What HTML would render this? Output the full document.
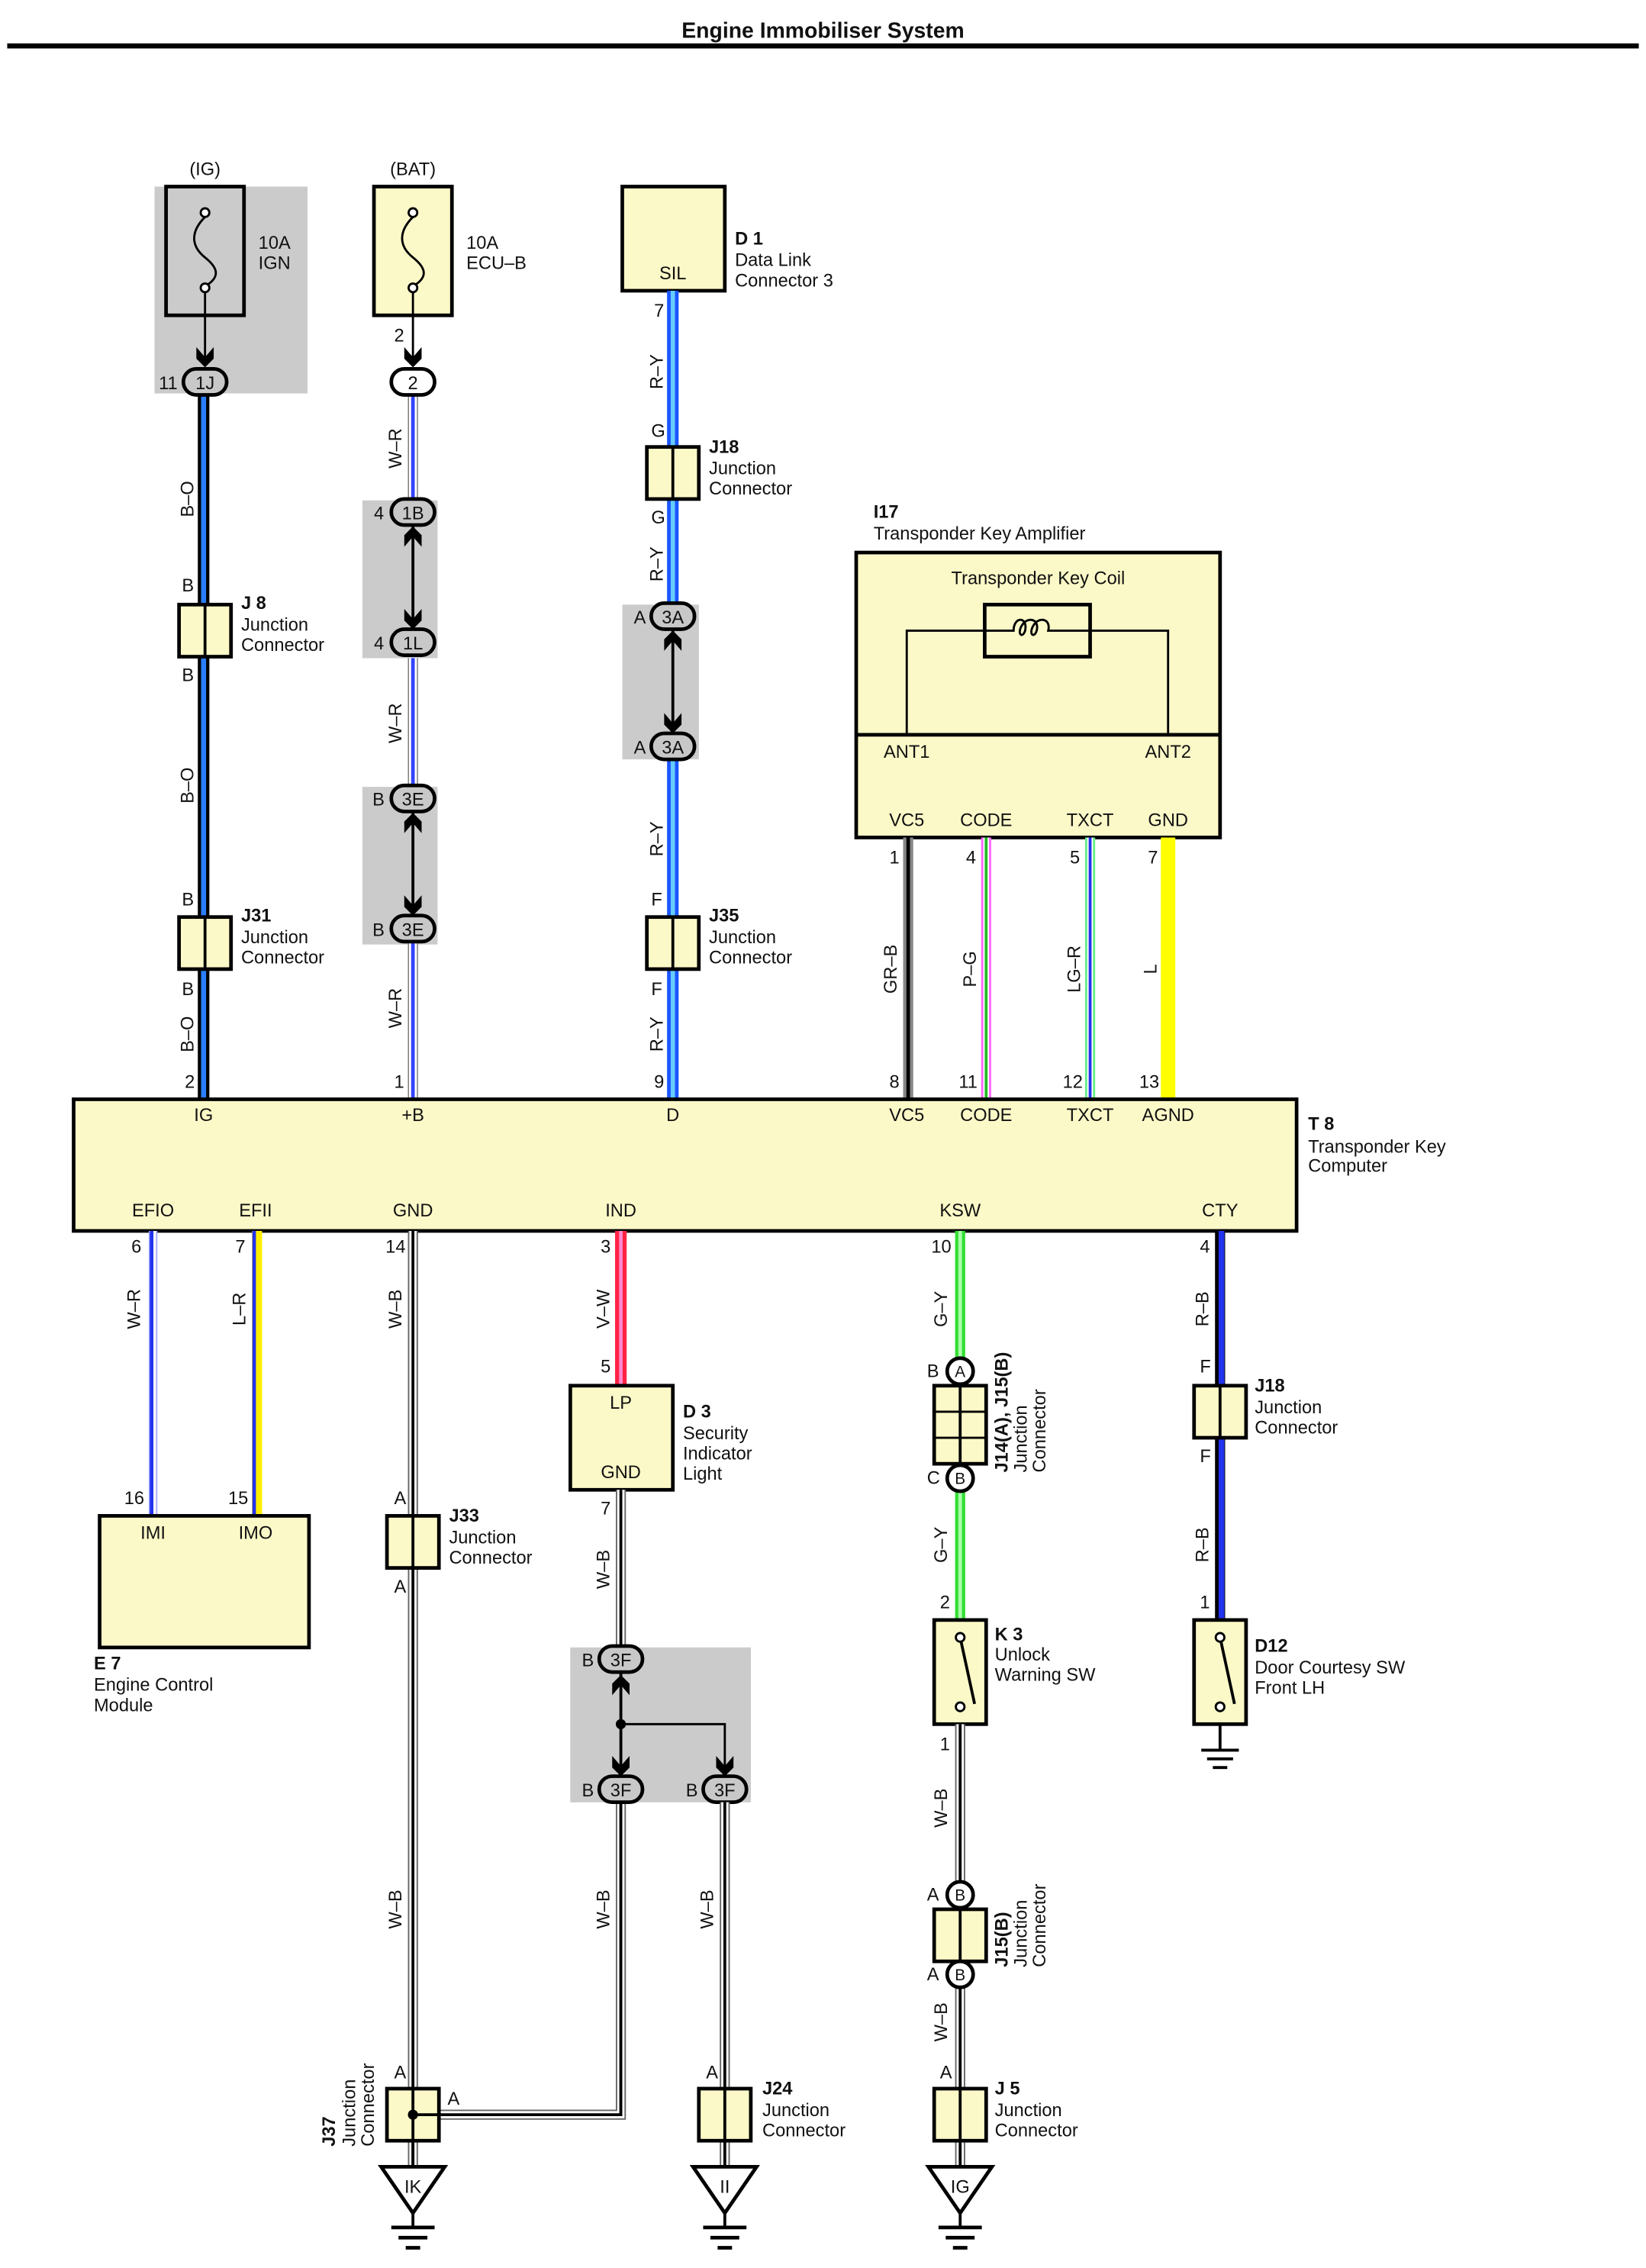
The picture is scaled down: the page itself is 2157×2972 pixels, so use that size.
<!DOCTYPE html>
<html><head><meta charset="utf-8"><style>
html,body{margin:0;padding:0;background:#fff}
svg{display:block}
text{font-family:"Liberation Sans",sans-serif;font-size:12.5px;fill:#111}
.b{font-weight:bold}
.m{text-anchor:middle}
.bx{fill:#fcf9c8;stroke:#000;stroke-width:2.5}
.ln{stroke:#000;stroke-width:1.5;fill:none}
.ov{fill:#c8c8c8;stroke:#000;stroke-width:2.5}
.gr{fill:#cbcbcb}
</style></head><body>
<svg width="2157" height="2972" viewBox="0 0 1140 1568" preserveAspectRatio="none" xmlns="http://www.w3.org/2000/svg">
<defs>
<g id="ad"><polygon points="-6,-12 0,-5 6,-12 6,-4 0,2 -6,-4" fill="#000"/></g>
<g id="au"><polygon points="-6,12 0,5 6,12 6,4 0,-2 -6,4" fill="#000"/></g>
<g id="jb"><rect x="-18" y="0" width="36" height="36" class="bx"/><line x1="0" y1="0" x2="0" y2="36" stroke="#000" stroke-width="2"/></g>
<g id="gnd"><polygon points="-22,0 22,0 0,32" fill="#fff" stroke="#000" stroke-width="2.5"/><line x1="0" y1="32" x2="0" y2="42" stroke="#000" stroke-width="2"/><line x1="-15" y1="42" x2="15" y2="42" stroke="#000" stroke-width="2.5"/><line x1="-10" y1="49" x2="10" y2="49" stroke="#000" stroke-width="2.5"/><line x1="-5" y1="56" x2="5" y2="56" stroke="#000" stroke-width="2.5"/></g>
<g id="cgnd"><line x1="0" y1="0" x2="0" y2="18" stroke="#000" stroke-width="2"/><line x1="-13" y1="18" x2="13" y2="18" stroke="#000" stroke-width="2"/><line x1="-9" y1="24" x2="9" y2="24" stroke="#000" stroke-width="2"/><line x1="-5" y1="30" x2="5" y2="30" stroke="#000" stroke-width="2"/></g>
</defs>

<text x="570" y="26" class="b m" style="font-size:15px">Engine Immobiliser System</text>
<rect x="5" y="30" width="1130" height="3.5" fill="#000"/>

<rect x="107" y="129" width="106" height="143" class="gr"/>
<rect x="251" y="346" width="52" height="109" class="gr"/>
<rect x="251" y="544" width="52" height="109" class="gr"/>
<rect x="431" y="418" width="53" height="107" class="gr"/>
<rect x="395" y="1139" width="125" height="107" class="gr"/>

<!-- IG column -->
<text x="142" y="121" class="m">(IG)</text>
<rect x="115" y="129" width="54" height="89" fill="none" stroke="#000" stroke-width="2.5"/>
<path d="M142,150 C132,160 132,170 142,178 C152,186 152,192 142,198" class="ln" stroke-width="2"/>
<circle cx="142" cy="147" r="3" fill="#fff" stroke="#000" stroke-width="1.5"/><circle cx="142" cy="199" r="3" fill="#fff" stroke="#000" stroke-width="1.5"/>
<line x1="142" y1="202" x2="142" y2="250" stroke="#000" stroke-width="1.5"/>
<use href="#ad" x="142" y="252"/>
<text x="179" y="172">10A</text><text x="179" y="186">IGN</text>
<line x1="141" y1="273" x2="141" y2="760" stroke="#000" stroke-width="8"/>
<line x1="141" y1="273" x2="141" y2="760" stroke="#2a7fff" stroke-width="3.5"/>
<rect x="127" y="255" width="30" height="18" rx="9" class="ov"/><text x="142" y="269" class="m">1J</text>
<text x="110" y="269">11</text>
<use href="#jb" x="142" y="418"/><use href="#jb" x="142" y="634"/>
<text x="126" y="409">B</text><text x="126" y="471">B</text><text x="126" y="626">B</text><text x="126" y="688">B</text>
<text x="167" y="421" class="b">J 8</text><text x="167" y="436">Junction</text><text x="167" y="450">Connector</text>
<text x="167" y="637" class="b">J31</text><text x="167" y="652">Junction</text><text x="167" y="666">Connector</text>
<text transform="translate(134,345) rotate(-90)" class="m">B–O</text>
<text transform="translate(134,543) rotate(-90)" class="m">B–O</text>
<text transform="translate(134,715) rotate(-90)" class="m">B–O</text>
<text x="128" y="752">2</text>

<!-- BAT column -->
<text x="286" y="121" class="m">(BAT)</text>
<rect x="259" y="129" width="54" height="89" class="bx"/>
<path d="M286,150 C276,160 276,170 286,178 C296,186 296,192 286,198" class="ln" stroke-width="2"/>
<circle cx="286" cy="147" r="3" fill="#fff" stroke="#000" stroke-width="1.5"/><circle cx="286" cy="199" r="3" fill="#fff" stroke="#000" stroke-width="1.5"/>
<line x1="286" y1="202" x2="286" y2="250" stroke="#000" stroke-width="1.5"/>
<use href="#ad" x="286" y="252"/>
<text x="323" y="172">10A</text><text x="323" y="186">ECU–B</text>
<text x="273" y="236">2</text>
<line x1="286" y1="273" x2="286" y2="760" stroke="#777" stroke-width="7"/>
<line x1="286" y1="273" x2="286" y2="760" stroke="#fff" stroke-width="5.5"/>
<line x1="286" y1="273" x2="286" y2="760" stroke="#3344ff" stroke-width="2.5"/>
<rect x="271" y="255" width="30" height="18" rx="9" fill="#fff" stroke="#000" stroke-width="2.5"/><text x="286" y="269" class="m">2</text>
<rect x="251" y="346" width="52" height="109" class="gr"/>
<line x1="286" y1="362" x2="286" y2="436" stroke="#000" stroke-width="2"/>
<rect x="271" y="345" width="30" height="18" rx="9" class="ov"/><text x="286" y="359" class="m">1B</text>
<use href="#au" x="286" y="366"/><use href="#ad" x="286" y="433"/>
<rect x="271" y="435" width="30" height="18" rx="9" class="ov"/><text x="286" y="449" class="m">1L</text>
<text x="259" y="359">4</text><text x="259" y="449">4</text>
<rect x="251" y="546" width="52" height="104" class="gr"/>
<line x1="286" y1="560" x2="286" y2="634" stroke="#000" stroke-width="2"/>
<rect x="271" y="543" width="30" height="18" rx="9" class="ov"/><text x="286" y="557" class="m">3E</text>
<use href="#au" x="286" y="564"/><use href="#ad" x="286" y="631"/>
<rect x="271" y="633" width="30" height="18" rx="9" class="ov"/><text x="286" y="647" class="m">3E</text>
<text x="258" y="557">B</text><text x="258" y="647">B</text>
<text transform="translate(278,310) rotate(-90)" class="m">W–R</text>
<text transform="translate(278,500) rotate(-90)" class="m">W–R</text>
<text transform="translate(278,697) rotate(-90)" class="m">W–R</text>
<text x="273" y="752">1</text>

<!-- D1 column -->
<rect x="431" y="129" width="71" height="72" class="bx"/>
<text x="466" y="193" class="m">SIL</text>
<text x="509" y="169" class="b">D 1</text><text x="509" y="184">Data Link</text><text x="509" y="198">Connector 3</text>
<line x1="466" y1="201" x2="466" y2="760" stroke="#1a55ff" stroke-width="8"/>
<line x1="466" y1="201" x2="466" y2="760" stroke="#66ccff" stroke-width="3"/>
<text x="453" y="219">7</text>
<text x="451" y="302">G</text><text x="451" y="362">G</text>
<use href="#jb" x="466" y="309"/>
<text x="491" y="313" class="b">J18</text><text x="491" y="328">Junction</text><text x="491" y="342">Connector</text>
<rect x="431" y="420" width="53" height="103" class="gr"/>
<line x1="466" y1="434" x2="466" y2="508" stroke="#000" stroke-width="2"/>
<rect x="451" y="417" width="30" height="18" rx="9" class="ov"/><text x="466" y="431" class="m">3A</text>
<use href="#au" x="466" y="438"/><use href="#ad" x="466" y="505"/>
<rect x="451" y="507" width="30" height="18" rx="9" class="ov"/><text x="466" y="521" class="m">3A</text>
<text x="439" y="431">A</text><text x="439" y="521">A</text>
<text x="451" y="626">F</text><text x="451" y="688">F</text>
<use href="#jb" x="466" y="634"/>
<text x="491" y="637" class="b">J35</text><text x="491" y="652">Junction</text><text x="491" y="666">Connector</text>
<text transform="translate(459,257) rotate(-90)" class="m">R–Y</text>
<text transform="translate(459,390) rotate(-90)" class="m">R–Y</text>
<text transform="translate(459,580) rotate(-90)" class="m">R–Y</text>
<text transform="translate(459,715) rotate(-90)" class="m">R–Y</text>
<text x="453" y="752">9</text>

<!-- I17 -->
<text x="605" y="358" class="b">I17</text><text x="605" y="373">Transponder Key Amplifier</text>
<rect x="593" y="382" width="252" height="197" class="bx"/>
<line x1="593" y1="508" x2="845" y2="508" stroke="#000" stroke-width="2.5"/>
<text x="719" y="404" class="m">Transponder Key Coil</text>
<polyline points="628,508 628,436 682,436" class="ln"/>
<polyline points="755,436 809,436 809,508" class="ln"/>
<rect x="682" y="418" width="73" height="36" fill="none" stroke="#000" stroke-width="2.5"/>
<path d="M682,436 L702,436 C702,426 712,426 710,436 C708,442 704,438 708,432 C712,426 720,428 718,436 C716,442 712,438 716,432 C720,426 728,428 726,436 L755,436" class="ln" stroke-width="1.8"/>
<text x="628" y="524" class="m">ANT1</text><text x="809" y="524" class="m">ANT2</text>
<text x="628" y="571" class="m">VC5</text><text x="683" y="571" class="m">CODE</text><text x="755" y="571" class="m">TXCT</text><text x="809" y="571" class="m">GND</text>
<line x1="629" y1="579" x2="629" y2="760" stroke="#888" stroke-width="7"/>
<line x1="629" y1="579" x2="629" y2="760" stroke="#000" stroke-width="2.5"/>
<line x1="683" y1="579" x2="683" y2="760" stroke="#ff66ff" stroke-width="7"/>
<line x1="683" y1="579" x2="683" y2="760" stroke="#fff" stroke-width="4"/>
<line x1="683" y1="579" x2="683" y2="760" stroke="#22bb22" stroke-width="2"/>
<line x1="755" y1="579" x2="755" y2="760" stroke="#66ee88" stroke-width="7"/>
<line x1="755" y1="579" x2="755" y2="760" stroke="#fff" stroke-width="4"/>
<line x1="755" y1="579" x2="755" y2="760" stroke="#2233ee" stroke-width="2"/>
<line x1="809" y1="579" x2="809" y2="760" stroke="#ffff00" stroke-width="10"/>
<text x="616" y="597">1</text><text x="669" y="597">4</text><text x="741" y="597">5</text><text x="795" y="597">7</text>
<text x="616" y="752">8</text><text x="664" y="752">11</text><text x="736" y="752">12</text><text x="789" y="752">13</text>
<text transform="translate(621,670) rotate(-90)" class="m">GR–B</text>
<text transform="translate(676,670) rotate(-90)" class="m">P–G</text>
<text transform="translate(748,670) rotate(-90)" class="m">LG–R</text>
<text transform="translate(801,670) rotate(-90)" class="m">L</text>

<!-- T8 -->
<rect x="51" y="760" width="847" height="91" class="bx" stroke-width="3"/>
<text x="141" y="775" class="m">IG</text><text x="286" y="775" class="m">+B</text><text x="466" y="775" class="m">D</text>
<text x="628" y="775" class="m">VC5</text><text x="683" y="775" class="m">CODE</text><text x="755" y="775" class="m">TXCT</text><text x="809" y="775" class="m">AGND</text>
<text x="106" y="841" class="m">EFIO</text><text x="177" y="841" class="m">EFII</text><text x="286" y="841" class="m">GND</text>
<text x="430" y="841" class="m">IND</text><text x="665" y="841" class="m">KSW</text><text x="845" y="841" class="m">CTY</text>
<text x="906" y="781" class="b">T 8</text><text x="906" y="797">Transponder Key</text><text x="906" y="810">Computer</text>

<!-- EFIO / EFII -->
<line x1="106" y1="851" x2="106" y2="1048" stroke="#aaaaff" stroke-width="6"/>
<line x1="106" y1="851" x2="106" y2="1048" stroke="#fff" stroke-width="4"/>
<line x1="105" y1="851" x2="105" y2="1048" stroke="#2233ee" stroke-width="2.5"/>
<line x1="178" y1="851" x2="178" y2="1048" stroke="#ffee00" stroke-width="7"/>
<line x1="176" y1="851" x2="176" y2="1048" stroke="#2233ee" stroke-width="2.5"/>
<text x="91" y="866">6</text><text x="163" y="866">7</text>
<text x="86" y="1040">16</text><text x="158" y="1040">15</text>
<text transform="translate(97,905) rotate(-90)" class="m">W–R</text>
<text transform="translate(170,905) rotate(-90)" class="m">L–R</text>
<rect x="69" y="1048" width="145" height="91" class="bx"/>
<text x="106" y="1064" class="m">IMI</text><text x="177" y="1064" class="m">IMO</text>
<text x="65" y="1154" class="b">E 7</text><text x="65" y="1169">Engine Control</text><text x="65" y="1183">Module</text>

<!-- GND column -->
<line x1="286" y1="851" x2="286" y2="1498" stroke="#666" stroke-width="7"/>
<line x1="286" y1="851" x2="286" y2="1498" stroke="#fff" stroke-width="5"/>
<line x1="286" y1="851" x2="286" y2="1498" stroke="#000" stroke-width="2"/>
<text x="267" y="866">14</text>
<text transform="translate(278,905) rotate(-90)" class="m">W–B</text>
<text transform="translate(278,1320) rotate(-90)" class="m">W–B</text>
<text x="273" y="1040">A</text><text x="273" y="1101">A</text>
<use href="#jb" x="286" y="1048"/>
<text x="311" y="1052" class="b">J33</text><text x="311" y="1067">Junction</text><text x="311" y="1081">Connector</text>
<polyline points="304,1462 430,1462 430,1246" fill="none" stroke="#666" stroke-width="7"/>
<polyline points="304,1462 430,1462 430,1246" fill="none" stroke="#fff" stroke-width="5"/>
<polyline points="286,1462 430,1462 430,1246" fill="none" stroke="#000" stroke-width="2"/>
<text x="273" y="1437">A</text>
<rect x="268" y="1444" width="36" height="36" class="bx"/>
<line x1="286" y1="1444" x2="286" y2="1498" stroke="#000" stroke-width="2"/>
<line x1="286" y1="1462" x2="304" y2="1462" stroke="#000" stroke-width="2"/>
<circle cx="286" cy="1462" r="3.5" fill="#000"/>
<text x="310" y="1455">A</text>
<text transform="translate(232,1484) rotate(-90)" class="b">J37</text>
<text transform="translate(246,1484) rotate(-90)">Junction</text>
<text transform="translate(259,1484) rotate(-90)">Connector</text>
<use href="#gnd" x="286" y="1498"/>
<text x="286" y="1516" class="m">IK</text>

<!-- IND column -->
<line x1="430" y1="851" x2="430" y2="958" stroke="#ff2244" stroke-width="8"/>
<line x1="430" y1="851" x2="430" y2="958" stroke="#ff88cc" stroke-width="2.5"/>
<text x="416" y="866">3</text><text x="416" y="949">5</text>
<text transform="translate(422,905) rotate(-90)" class="m">V–W</text>
<rect x="395" y="958" width="71" height="72" class="bx"/>
<text x="430" y="974" class="m">LP</text><text x="430" y="1022" class="m">GND</text>
<text x="473" y="980" class="b">D 3</text><text x="473" y="995">Security</text><text x="473" y="1009">Indicator</text><text x="473" y="1023">Light</text>
<line x1="430" y1="1030" x2="430" y2="1139" stroke="#666" stroke-width="7"/>
<line x1="430" y1="1030" x2="430" y2="1139" stroke="#fff" stroke-width="5"/>
<line x1="430" y1="1030" x2="430" y2="1139" stroke="#000" stroke-width="2"/>
<text x="416" y="1047">7</text>
<text transform="translate(422,1085) rotate(-90)" class="m">W–B</text>
<rect x="395" y="1139" width="125" height="107" class="gr"/>
<line x1="430" y1="1155" x2="430" y2="1228" stroke="#000" stroke-width="2"/>
<polyline points="430,1192 502,1192 502,1228" class="ln" stroke-width="2"/>
<circle cx="430" cy="1192" r="3.5" fill="#000"/>
<use href="#au" x="430" y="1160"/><use href="#ad" x="430" y="1226"/><use href="#ad" x="502" y="1226"/>
<rect x="415" y="1138" width="30" height="18" rx="9" class="ov"/><text x="430" y="1152" class="m">3F</text>
<rect x="415" y="1228" width="30" height="18" rx="9" class="ov"/><text x="430" y="1242" class="m">3F</text>
<rect x="487" y="1228" width="30" height="18" rx="9" class="ov"/><text x="502" y="1242" class="m">3F</text>
<text x="403" y="1152">B</text><text x="403" y="1242">B</text><text x="475" y="1242">B</text>
<line x1="430" y1="1246" x2="430" y2="1462" stroke="#000" stroke-width="2"/>
<text transform="translate(422,1320) rotate(-90)" class="m">W–B</text>
<line x1="502" y1="1246" x2="502" y2="1498" stroke="#666" stroke-width="7"/>
<line x1="502" y1="1246" x2="502" y2="1498" stroke="#fff" stroke-width="5"/>
<line x1="502" y1="1246" x2="502" y2="1498" stroke="#000" stroke-width="2"/>
<text transform="translate(494,1320) rotate(-90)" class="m">W–B</text>
<text x="489" y="1437">A</text>
<use href="#jb" x="502" y="1444"/>
<text x="528" y="1448" class="b">J24</text><text x="528" y="1463">Junction</text><text x="528" y="1477">Connector</text>
<use href="#gnd" x="502" y="1498"/>
<text x="502" y="1516" class="m">II</text>

<!-- KSW column -->
<line x1="665" y1="851" x2="665" y2="1120" stroke="#33dd33" stroke-width="7"/>
<line x1="665" y1="851" x2="665" y2="1120" stroke="#aaffaa" stroke-width="2.5"/>
<text x="645" y="866">10</text>
<text transform="translate(656,905) rotate(-90)" class="m">G–Y</text>
<text transform="translate(656,1068) rotate(-90)" class="m">G–Y</text>
<rect x="647" y="958" width="36" height="54" class="bx"/>
<line x1="665" y1="958" x2="665" y2="1012" stroke="#000" stroke-width="2"/>
<line x1="647" y1="976" x2="683" y2="976" stroke="#000" stroke-width="1.5"/>
<line x1="647" y1="994" x2="683" y2="994" stroke="#000" stroke-width="1.5"/>
<circle cx="665" cy="948" r="9" fill="#fff" stroke="#000" stroke-width="2.5"/><text x="665" y="952" class="m" style="font-size:11px">A</text>
<circle cx="665" cy="1022" r="9" fill="#fff" stroke="#000" stroke-width="2.5"/><text x="665" y="1026" class="m" style="font-size:11px">B</text>
<text x="642" y="952">B</text><text x="642" y="1026">C</text>
<text transform="translate(698,1018) rotate(-90)" class="b">J14(A), J15(B)</text>
<text transform="translate(711,1018) rotate(-90)">Junction</text>
<text transform="translate(724,1018) rotate(-90)">Connector</text>
<text x="651" y="1112">2</text>
<rect x="647" y="1120" width="36" height="72" class="bx"/>
<line x1="665" y1="1132" x2="675" y2="1178" stroke="#000" stroke-width="2"/>
<circle cx="665" cy="1132" r="3" fill="#fff" stroke="#000" stroke-width="1.5"/>
<circle cx="665" cy="1180" r="3" fill="#fff" stroke="#000" stroke-width="1.5"/>
<text x="689" y="1134" class="b">K 3</text><text x="689" y="1148">Unlock</text><text x="689" y="1162">Warning SW</text>
<text x="651" y="1210">1</text>
<line x1="665" y1="1192" x2="665" y2="1498" stroke="#666" stroke-width="7"/>
<line x1="665" y1="1192" x2="665" y2="1498" stroke="#fff" stroke-width="5"/>
<line x1="665" y1="1192" x2="665" y2="1498" stroke="#000" stroke-width="2"/>
<text transform="translate(656,1250) rotate(-90)" class="m">W–B</text>
<text transform="translate(656,1398) rotate(-90)" class="m">W–B</text>
<use href="#jb" x="665" y="1320"/>
<circle cx="665" cy="1310" r="9" fill="#fff" stroke="#000" stroke-width="2.5"/><text x="665" y="1314" class="m" style="font-size:11px">B</text>
<circle cx="665" cy="1365" r="9" fill="#fff" stroke="#000" stroke-width="2.5"/><text x="665" y="1369" class="m" style="font-size:11px">B</text>
<text x="642" y="1314">A</text><text x="642" y="1369">A</text>
<text transform="translate(698,1360) rotate(-90)" class="b">J15(B)</text>
<text transform="translate(711,1360) rotate(-90)">Junction</text>
<text transform="translate(724,1360) rotate(-90)">Connector</text>
<text x="651" y="1437">A</text>
<use href="#jb" x="665" y="1444"/>
<text x="689" y="1448" class="b">J 5</text><text x="689" y="1463">Junction</text><text x="689" y="1477">Connector</text>
<use href="#gnd" x="665" y="1498"/>
<text x="665" y="1516" class="m">IG</text>

<!-- CTY column -->
<line x1="845" y1="851" x2="845" y2="1120" stroke="#000" stroke-width="7"/>
<line x1="846" y1="851" x2="846" y2="1120" stroke="#2233ee" stroke-width="4"/>
<text x="831" y="866">4</text><text x="831" y="949">F</text><text x="831" y="1011">F</text><text x="831" y="1112">1</text>
<text transform="translate(837,905) rotate(-90)" class="m">R–B</text>
<text transform="translate(837,1068) rotate(-90)" class="m">R–B</text>
<use href="#jb" x="845" y="958"/>
<text x="869" y="962" class="b">J18</text><text x="869" y="977">Junction</text><text x="869" y="991">Connector</text>
<rect x="827" y="1120" width="36" height="72" class="bx"/>
<line x1="845" y1="1132" x2="855" y2="1178" stroke="#000" stroke-width="2"/>
<circle cx="845" cy="1132" r="3" fill="#fff" stroke="#000" stroke-width="1.5"/>
<circle cx="845" cy="1180" r="3" fill="#fff" stroke="#000" stroke-width="1.5"/>
<text x="869" y="1142" class="b">D12</text><text x="869" y="1157">Door Courtesy SW</text><text x="869" y="1171">Front LH</text>
<use href="#cgnd" x="845" y="1192"/>
</svg>
</body></html>
